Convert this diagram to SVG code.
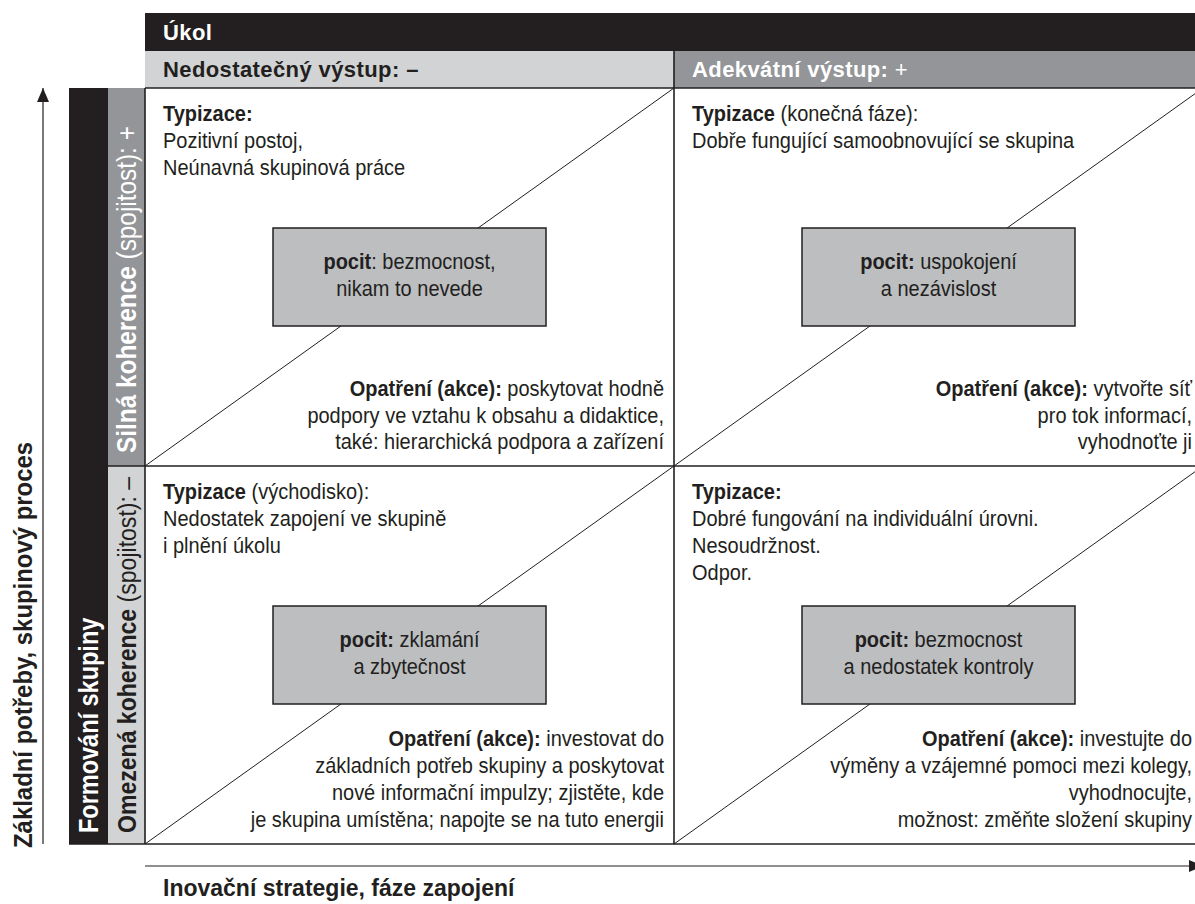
<svg xmlns="http://www.w3.org/2000/svg" width="1195" height="904" viewBox="0 0 1195 904">
<style>
text{font-family:"Liberation Sans",Arial,sans-serif;fill:#231f20}
.t{font-size:21.5px}
.c{text-anchor:middle}
.r{text-anchor:end}
.b{font-weight:bold}
.n{font-weight:normal}
.w{fill:#ffffff}
.h{font-size:22px;font-weight:bold;letter-spacing:0.4px}
.box{fill:#bcbec0;stroke:#231f20;stroke-width:1.5}
.diag{stroke:#231f20;stroke-width:1;fill:none}
.grid{stroke:#231f20;stroke-width:1.6;fill:none}
.axis{stroke:#231f20;stroke-width:1.2;fill:none}
</style>
<defs>
<marker id="ah" viewBox="0 0 14 12" refX="14" refY="6" markerWidth="14" markerHeight="12" markerUnits="userSpaceOnUse" orient="auto">
<path d="M0,0 L14,6 L0,12 z" fill="#231f20"/>
</marker>
</defs>
<rect width="1195" height="904" fill="#ffffff"/>

<g id="header">
<rect x="145" y="13" width="1058" height="38" fill="#231f20"/>
<rect x="145" y="51" width="529" height="37" fill="#d1d3d4"/>
<rect x="674" y="51" width="529" height="37" fill="#939598"/>
<text class="h w" x="163" y="40">Úkol</text>
<text class="h" x="163" y="77">Nedostatečný výstup: –</text>
<text class="h w" x="692" y="77">Adekvátní výstup: <tspan class="n">+</tspan></text>
</g>

<g id="left-bars">
<rect x="69" y="88" width="39" height="756" fill="#231f20"/>
<rect x="108" y="88" width="37" height="378" fill="#939598"/>
<rect x="108" y="466" width="37" height="378" fill="#d1d3d4"/>
<text class="b w" font-size="27" transform="translate(98,833) rotate(-90) scale(0.87,1)">Formování skupiny</text>
<text class="b w" font-size="28" transform="translate(136,453) rotate(-90) scale(0.87,1)">Silná koherence<tspan class="n"> (spojitost): +</tspan></text>
<text class="b" font-size="26.5" transform="translate(136,833) rotate(-90) scale(0.87,1)">Omezená koherence<tspan class="n"> (spojitost): –</tspan></text>
</g>

<g id="connectors">
<line class="diag" x1="145" y1="466" x2="674" y2="88"/>
<line class="diag" x1="674" y1="466" x2="1203" y2="88"/>
<line class="diag" x1="145" y1="844" x2="674" y2="466"/>
<line class="diag" x1="674" y1="844" x2="1203" y2="466"/>
<line class="grid" x1="145" y1="88" x2="1203" y2="88"/>
<line class="grid" x1="108" y1="466" x2="1203" y2="466"/>
<line class="grid" x1="69" y1="844" x2="1203" y2="844"/>
<line class="grid" x1="145" y1="88" x2="145" y2="844"/>
<line class="grid" x1="674" y1="51" x2="674" y2="844"/>
<line class="axis" x1="43" y1="844" x2="43" y2="88" marker-end="url(#ah)"/>
<line class="axis" x1="145" y1="866" x2="1203" y2="866" marker-end="url(#ah)"/>
</g>

<g id="q-top-left">
<g transform="translate(163,0) scale(0.93,1)">
<text class="t" x="0" y="121"><tspan class="b">Typizace:</tspan></text>
<text class="t" x="0" y="148">Pozitivní postoj,</text>
<text class="t" x="0" y="175">Neúnavná skupinová práce</text>
</g>
<rect class="box" x="273" y="228" width="273" height="98"/>
<g transform="translate(409.5,0) scale(0.93,1)">
<text class="t c" x="0" y="269"><tspan class="b">pocit</tspan>: bezmocnost,</text>
<text class="t c" x="0" y="296">nikam to nevede</text>
</g>
<g transform="translate(664,0) scale(0.93,1)">
<text class="t r" x="0" y="396"><tspan class="b">Opatření (akce):</tspan> poskytovat hodně</text>
<text class="t r" x="0" y="423">podpory ve vztahu k obsahu a didaktice,</text>
<text class="t r" x="0" y="449">také: hierarchická podpora a zařízení</text>
</g>
</g>

<g id="q-top-right">
<g transform="translate(692,0) scale(0.93,1)">
<text class="t" x="0" y="121"><tspan class="b">Typizace</tspan> (konečná fáze):</text>
<text class="t" x="0" y="148">Dobře fungující samoobnovující se skupina</text>
</g>
<rect class="box" x="802" y="228" width="273" height="98"/>
<g transform="translate(938.5,0) scale(0.93,1)">
<text class="t c" x="0" y="269"><tspan class="b">pocit:</tspan> uspokojení</text>
<text class="t c" x="0" y="296">a nezávislost</text>
</g>
<g transform="translate(1192,0) scale(0.93,1)">
<text class="t r" x="0" y="396"><tspan class="b">Opatření (akce):</tspan> vytvořte síť</text>
<text class="t r" x="0" y="423">pro tok informací,</text>
<text class="t r" x="0" y="449">vyhodnoťte ji</text>
</g>
</g>

<g id="q-bottom-left">
<g transform="translate(163,0) scale(0.93,1)">
<text class="t" x="0" y="499"><tspan class="b">Typizace</tspan> (východisko):</text>
<text class="t" x="0" y="526">Nedostatek zapojení ve skupině</text>
<text class="t" x="0" y="553">i plnění úkolu</text>
</g>
<rect class="box" x="273" y="606" width="273" height="98"/>
<g transform="translate(409.5,0) scale(0.93,1)">
<text class="t c" x="0" y="647"><tspan class="b">pocit:</tspan> zklamání</text>
<text class="t c" x="0" y="674">a zbytečnost</text>
</g>
<g transform="translate(664,0) scale(0.93,1)">
<text class="t r" x="0" y="746"><tspan class="b">Opatření (akce):</tspan> investovat do</text>
<text class="t r" x="0" y="773">základních potřeb skupiny a poskytovat</text>
<text class="t r" x="0" y="800">nové informační impulzy; zjistěte, kde</text>
<text class="t r" x="0" y="827">je skupina umístěna; napojte se na tuto energii</text>
</g>
</g>

<g id="q-bottom-right">
<g transform="translate(692,0) scale(0.93,1)">
<text class="t" x="0" y="499"><tspan class="b">Typizace:</tspan></text>
<text class="t" x="0" y="526">Dobré fungování na individuální úrovni.</text>
<text class="t" x="0" y="553">Nesoudržnost.</text>
<text class="t" x="0" y="580">Odpor.</text>
</g>
<rect class="box" x="802" y="606" width="273" height="98"/>
<g transform="translate(938.5,0) scale(0.93,1)">
<text class="t c" x="0" y="647"><tspan class="b">pocit:</tspan> bezmocnost</text>
<text class="t c" x="0" y="674">a nedostatek kontroly</text>
</g>
<g transform="translate(1192,0) scale(0.93,1)">
<text class="t r" x="0" y="746"><tspan class="b">Opatření (akce):</tspan> investujte do</text>
<text class="t r" x="0" y="773">výměny a vzájemné pomoci mezi kolegy,</text>
<text class="t r" x="0" y="800">vyhodnocujte,</text>
<text class="t r" x="0" y="827">možnost: změňte složení skupiny</text>
</g>
</g>

<g id="axis-labels">
<text class="b" font-size="26" transform="translate(32,848) rotate(-90) scale(0.92,1)">Základní potřeby, skupinový proces</text>
<text class="b" font-size="23" x="163" y="896">Inovační strategie, fáze zapojení</text>
</g>
</svg>
